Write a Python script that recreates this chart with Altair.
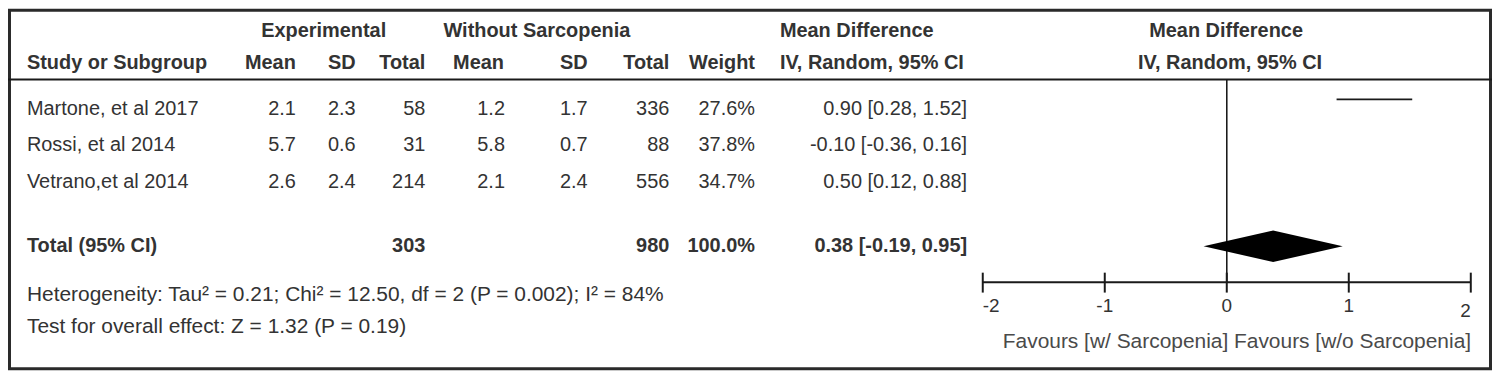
import altair as alt
import pandas as pd

# ---------------- data ----------------
studies = ["Martone, et al 2017", "Rossi, et al 2014", "Vetrano,et al 2014"]
exp_mean = [2.1, 5.7, 2.6]
exp_sd = [2.3, 0.6, 2.4]
exp_n = [58, 31, 214]
ctl_mean = [1.2, 5.8, 2.1]
ctl_sd = [1.7, 0.7, 2.4]
ctl_n = [336, 88, 556]
weights = [27.6, 37.8, 34.7]
md = [0.90, -0.10, 0.50]
md_lo = [0.28, -0.36, 0.12]
md_hi = [1.52, 0.16, 0.88]

total_label = "Total (95% CI)"
exp_total = 303
ctl_total = 980
total_weight = 100.0
pooled = [-0.19, 0.38, 0.95]  # lower, estimate, upper

heterogeneity = "Heterogeneity: Tau\u00b2 = 0.21; Chi\u00b2 = 12.50,  df = 2  (P = 0.002); I\u00b2 = 84%"
overall = "Test for overall effect: Z = 1.32  (P = 0.19)"
favours = "Favours [w/ Sarcopenia] Favours [w/o Sarcopenia]"

tick_values = [-2, -1, 0, 1, 2]
tick_labels = ["-2", "-1", "0", "1", "2"]

# visible CI segment in the figure (estimate -> upper) for the first study
shown_study = studies[0]

# ---------------- layout ----------------
W, H = 1490, 363
FONT = "Liberation Sans"
TXT = "#333333"
LINE = "#1a1a1a"
FS = 20

rows = pd.DataFrame({
    "study": studies,
    "em": [f"{v:.1f}" for v in exp_mean],
    "esd": [f"{v:.1f}" for v in exp_sd],
    "en": [str(v) for v in exp_n],
    "cm": [f"{v:.1f}" for v in ctl_mean],
    "csd": [f"{v:.1f}" for v in ctl_sd],
    "cn": [str(v) for v in ctl_n],
    "w": [f"{v:.1f}%" for v in weights],
    "mdtxt": [f"{a:.2f} [{b:.2f}, {c:.2f}]" for a, b, c in zip(md, md_lo, md_hi)],
    "md": md,
    "lo": md_lo,
    "hi": md_hi,
})

xscale = alt.Scale(domain=[tick_values[0], tick_values[-1]], range=[978.7, 1468.7])
row_y = alt.Y("study:N", scale=alt.Scale(domain=studies, range=[100.5, 174], padding=0), axis=None)


def const_text(text, x, y, align, bold=False, color=TXT, size=FS):
    return alt.Chart(pd.DataFrame({"t": [text]})).mark_text(
        align=align, baseline="middle", font=FONT, fontSize=size,
        fontWeight="bold" if bold else "normal", color=color
    ).encode(x=alt.value(x), y=alt.value(y), text="t:N")


def col_text(field, x, align):
    return alt.Chart(rows).mark_text(
        align=align, baseline="middle", font=FONT, fontSize=FS, color=TXT
    ).encode(x=alt.value(x), y=row_y, text=f"{field}:N")


layers = []

# border
layers.append(alt.Chart(pd.DataFrame({"a": [0]})).mark_rect(
    fillOpacity=0, stroke="#2a2a2a", strokeWidth=3
).encode(x=alt.value(1.5), x2=alt.value(W - 1.5), y=alt.value(1.5), y2=alt.value(H - 1.5)))

# header separator
layers.append(alt.Chart(pd.DataFrame({"a": [0]})).mark_rule(color=LINE, strokeWidth=2).encode(
    x=alt.value(0), x2=alt.value(W), y=alt.value(71)))

# header row 1
layers += [
    const_text("Experimental", 317, 22, "center", True),
    const_text("Without Sarcopenia", 531, 22, "center", True),
    const_text("Mean Difference", 775, 22, "left", True),
    const_text("Mean Difference", 1223, 22, "center", True),
]
# header row 2
layers += [
    const_text("Study or Subgroup", 19, 55, "left", True),
    const_text("Mean", 289, 55, "right", True),
    const_text("SD", 349, 55, "right", True),
    const_text("Total", 419, 55, "right", True),
    const_text("Mean", 498, 55, "right", True),
    const_text("SD", 582, 55, "right", True),
    const_text("Total", 664, 55, "right", True),
    const_text("Weight", 750, 55, "right", True),
    const_text("IV, Random, 95% CI", 775, 55, "left", True),
    const_text("IV, Random, 95% CI", 1227, 55, "center", True),
]

# study rows
layers += [
    col_text("study", 19, "left"),
    col_text("em", 289, "right"),
    col_text("esd", 349, "right"),
    col_text("en", 419, "right"),
    col_text("cm", 499, "right"),
    col_text("csd", 582, "right"),
    col_text("cn", 664, "right"),
    col_text("w", 750, "right"),
    col_text("mdtxt", 963, "right"),
]

# total row
layers += [
    const_text(total_label, 19, 238, "left", True),
    const_text(str(exp_total), 419, 238, "right", True),
    const_text(str(ctl_total), 664, 238, "right", True),
    const_text(f"{total_weight:.1f}%", 750, 238, "right", True),
    const_text(f"{pooled[1]:.2f} [{pooled[0]:.2f}, {pooled[2]:.2f}]", 963, 238, "right", True),
]

# footnotes
layers += [
    const_text(heterogeneity, 19, 287, "left", size=21),
    const_text(overall, 19, 320, "left", size=21),
    const_text(favours, 1469, 335, "right", False, "#4a4a4a", 21),
]

ticks = pd.DataFrame({"v": tick_values, "lab": tick_labels})
lo_t, hi_t = tick_values[0], tick_values[-1]

# zero line
layers.append(alt.Chart(ticks).transform_filter("datum.v == 0").mark_rule(color=LINE, strokeWidth=1.6).encode(
    x=alt.X("v:Q", scale=xscale, axis=None), y=alt.value(71), y2=alt.value(275)))

# axis line
layers.append(alt.Chart(pd.DataFrame({"a": [lo_t], "b": [hi_t]})).mark_rule(
    color=LINE, strokeWidth=2).encode(
    x=alt.X("a:Q", scale=xscale, axis=None), x2="b:Q", y=alt.value(274.7)))

# ticks
layers.append(alt.Chart(ticks).mark_rule(color=LINE, strokeWidth=2).encode(
    x=alt.X("v:Q", scale=xscale, axis=None), y=alt.value(265), y2=alt.value(285)))


def tick_text(cond, align, y):
    return alt.Chart(ticks).transform_filter(cond).mark_text(
        align=align, baseline="middle", font=FONT, fontSize=19, color=TXT).encode(
        x=alt.X("v:Q", scale=xscale, axis=None), y=alt.value(y), text="lab:N")


layers += [
    tick_text(f"datum.v == {lo_t}", "left", 298.7),
    tick_text(f"datum.v > {lo_t} && datum.v < {hi_t}", "center", 298.7),
    tick_text(f"datum.v == {hi_t}", "right", 304),
]

# visible study CI segment
layers.append(alt.Chart(rows).transform_filter(alt.datum.study == shown_study).mark_rule(
    color=LINE, strokeWidth=1.6).encode(
    x=alt.X("md:Q", scale=xscale, axis=None), x2="hi:Q", y=alt.value(91)))

# pooled diamond
diamond = pd.DataFrame({"v": pooled, "h": [0, 1, 0]})
layers.append(alt.Chart(diamond).transform_calculate(nh="-datum.h").mark_area(color="black").encode(
    x=alt.X("v:Q", scale=xscale, axis=None),
    y=alt.Y("h:Q", scale=alt.Scale(domain=[-1, 1], range=[254.3, 222.7]), axis=None),
    y2="nh:Q"))

chart = alt.layer(*layers).resolve_scale(y="independent").properties(
    width=W, height=H, padding=0, autosize="none", background="white"
).configure_view(strokeWidth=0)

chart.save("out.html", embed_options={"renderer": "svg", "actions": False})
